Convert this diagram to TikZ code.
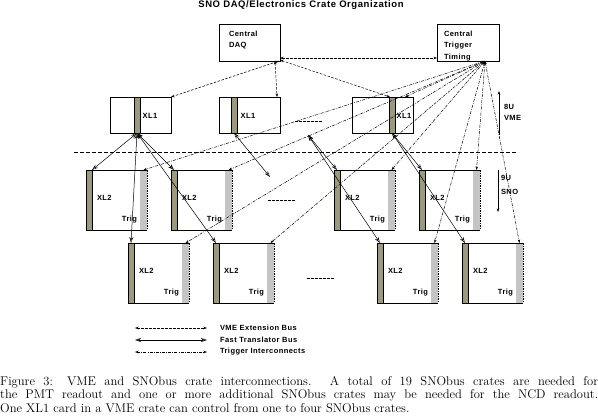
\documentclass[tikz,border=0pt]{standalone}
\usepackage{fontspec}
\newfontfamily\labfont{Liberation Sans}[LetterSpace=6]
\usetikzlibrary{arrows.meta}
\definecolor{olivec}{RGB}{156,154,122}
\definecolor{grayc}{RGB}{196,196,196}
\tikzset{
  lab/.style={font=\labfont\bfseries\fontsize{7.5}{8}\selectfont, inner sep=0pt, outer sep=0pt},
  ttl/.style={font=\labfont\bfseries\fontsize{9.5}{10}\selectfont, inner sep=0pt, outer sep=0pt},
  box/.style={draw, line width=0.7pt, anchor=north west, inner sep=0pt, outer sep=0pt},
  olbar/.style={draw, fill=olivec, line width=0.7pt, anchor=north west, minimum width=6pt, inner sep=0pt, outer sep=0pt},
  grbar/.style={fill=grayc, anchor=north east, minimum width=7pt, inner sep=0pt, outer sep=0pt},
  vme/.style={dash pattern=on 2.5pt off 1.5pt, line width=0.5pt, {Stealth[length=3.5pt,width=2.5pt]}-{Stealth[length=3.5pt,width=2.5pt]}},
  ftb/.style={line width=0.5pt, {Stealth[open,length=6pt,width=4pt]}-{Stealth[open,length=6pt,width=4pt]}},
  trig/.style={dash pattern=on 3pt off 1.2pt on 0.8pt off 1.2pt, line width=0.5pt, {Stealth[length=3.5pt,width=2.5pt]}-{Stealth[length=3.5pt,width=2.5pt]}},
  dots/.style={dash pattern=on 2.5pt off 1.5pt, line width=0.8pt},
  height/.style={line width=0.5pt, -{Stealth[length=3.5pt,width=2.5pt]}},
}
\newcommand\snocrate[3]{%
  \node[anchor=north west, minimum width=61pt, minimum height=60pt, inner sep=0pt, outer sep=0pt] (#1) at (#2,#3) {};
  \node[grbar, minimum height=60pt] (#1g) at (#1.north east) {};
  \draw[line width=0.7pt] (#1g.north east) -- (#1.north west) -- (#1.south west) -- (#1g.south east);
  \draw[line width=0.6pt, dash pattern=on 1.5pt off 1pt] (#1g.north east) -- (#1g.south east);
  \node[olbar, minimum height=60pt] (#1o) at (#1.north west) {};
  \node[lab, anchor=west] (#1x) at ([xshift=11pt,yshift=-28pt]#1.north west) {XL2};
  \node[lab, anchor=east] (#1t) at ([xshift=-10pt,yshift=-50pt]#1.north east) {Trig};
}
\newcommand\vmecrate[4]{%
  \node[box, minimum width=61pt, minimum height=36pt] (#1) at (#2,#3) {};
  \node[olbar, minimum height=36pt] (#1c) at ([xshift=#4pt]#1.north west) {};
}
\begin{document}
\begin{tikzpicture}[x=1pt,y=-1pt]
\useasboundingbox (0,0) rectangle (598,420);
\node[ttl] (title) at (301,5) {SNO DAQ/Electronics Crate Organization};

% central boxes
\node[box, minimum width=61pt, minimum height=37pt] (daq) at (219,24) {};
\node[lab, anchor=west] (daq1) at (229,34) {Central};
\node[lab, anchor=west] (daq2) at (229,46) {DAQ};
\node[box, minimum width=62pt, minimum height=37pt] (ctt) at (437,24) {};
\node[lab, anchor=west] (ctt1) at (444,34) {Central};
\node[lab, anchor=west] (ctt2) at (444,46) {Trigger};
\node[lab, anchor=west] (ctt3) at (444,58) {Timing};

% VME crates
\vmecrate{va}{110}{97}{24}
\node[lab] (vat) at (150,116) {XL1};
\vmecrate{vb}{219}{97}{12}
\node[lab] (vbt) at (248,116) {XL1};
\vmecrate{vc}{352}{97}{37}
\node[lab] (vct) at (404,116) {XL1};
\draw[dots] (295,121) -- (323,121);

% separator
\draw[dash pattern=on 4pt off 2pt, line width=0.6pt] (74,152) -- (518,152);

% SNO crates
\snocrate{A}{86}{170}
\snocrate{B}{171}{170}
\snocrate{C}{334}{170}
\snocrate{D}{419}{170}
\snocrate{E}{128}{243}
\snocrate{F}{213}{243}
\snocrate{G}{377}{243}
\snocrate{H}{462}{243}
\draw[dots] (268,200) -- (295,200);
\draw[dots] (307,278) -- (335,278);

% height markers
\coordinate (h1a) at (499,135);
\coordinate (h1b) at (499,91);
\draw[height] (h1a) -- (h1b);
\node[lab, anchor=west] (h1t) at (504,107) {8U};
\node[lab, anchor=west] (h1u) at (504,118) {VME};
\coordinate (h2a) at (498,170);
\coordinate (h2b) at (498,212);
\draw[height] (h2a) -- (h2b);
\node[lab, anchor=west] (h2t) at (501,178) {9U};
\node[lab, anchor=west] (h2u) at (501,192) {SNO};

% VME extension bus
\draw[vme] ([xshift=-1pt]daq.south east) -- (va.north east);
\draw[vme] ([xshift=-5pt]daq.south east) -- ([xshift=-3pt]vb.north east);
\draw[vme] ([yshift=1pt]daq.south east) -- ([xshift=38pt]vc.north west);
\draw[vme] ([yshift=3pt]daq.south east) -- ([yshift=3pt]ctt.south west);

% trigger interconnects
\coordinate (tc) at ([xshift=-14pt]ctt.south east);
\foreach \n in {A,B,C,D,E,F,G,H} {\draw[trig] (tc) -- (\n g.north);}
\draw[trig] (tc) -- ([xshift=-8pt]vc.north east);

% fast translator bus
\draw[ftb] (vac.south) -- (Ao.north east);
\draw[ftb] (vac.south) -- (Bo.north);
\draw[ftb] (vac.south) -- (Eo.north);
\draw[ftb] (vac.south) -- (Fo.north);
\coordinate (free1) at (270,177);
\draw[ftb] (vbc.south) -- (free1);
\coordinate (free2) at (308,135);
\draw[ftb] (free2) -- (Co.north);
\draw[ftb] (free2) -- (Go.north);
\draw[ftb] (vcc.south) -- (Do.north);
\draw[ftb] (vcc.south) -- (Ho.north);

% legend
\coordinate (l1a) at (135,328); \coordinate (l1b) at (207,328);
\coordinate (l2a) at (135,340); \coordinate (l2b) at (207,340);
\coordinate (l3a) at (135,352); \coordinate (l3b) at (207,352);
\draw[vme] (l1a) -- (l1b);
\draw[ftb] (l2a) -- (l2b);
\draw[trig] (l3a) -- (l3b);
\node[lab, anchor=west] (lt1) at (220,328) {VME Extension Bus};
\node[lab, anchor=west] (lt2) at (220,340) {Fast Translator Bus};
\node[lab, anchor=west] (lt3) at (220,352) {Trigger Interconnects};

% caption
\node[anchor=north west, text width=598pt, align=justify, inner sep=0pt, font=\fontsize{12.6}{13.5}\selectfont] (cap) at (0,376)
{Figure 3: VME and SNObus crate interconnections. A total of 19 SNObus crates are needed for\linebreak
the PMT readout and one or more additional SNObus crates may be needed for the NCD readout.\linebreak
One XL1 card in a VME crate can control from one to four SNObus crates.};
\end{tikzpicture}
\end{document}
